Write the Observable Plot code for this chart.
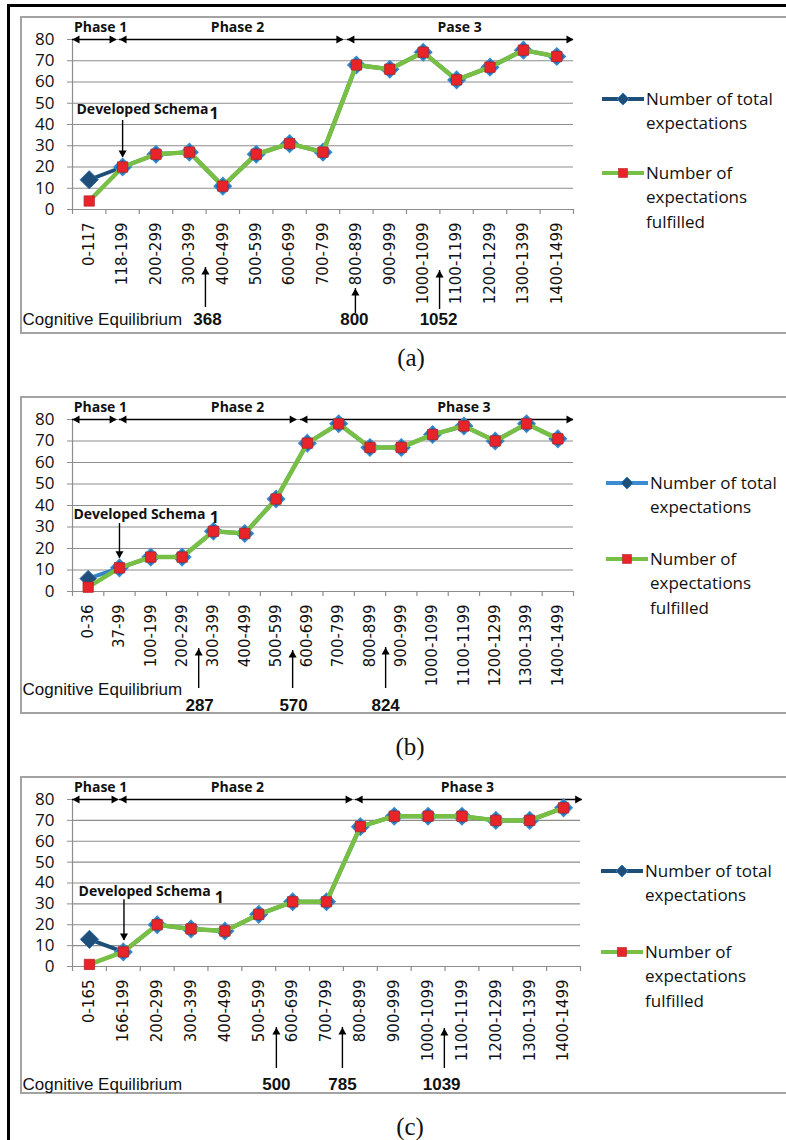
<!DOCTYPE html>
<html><head><meta charset="utf-8">
<script src="https://cdn.jsdelivr.net/npm/d3@7"></script>
<script src="https://cdn.jsdelivr.net/npm/@observablehq/plot@0.6"></script>
<style>
html,body{margin:0;padding:0;background:#fff;}
body{width:786px;height:1140px;overflow:hidden;position:relative;}
#page{position:absolute;left:0;top:0;width:786px;height:1140px;overflow:hidden;}
.outer{position:absolute;left:7px;top:4px;width:830px;height:1200px;border:3px solid #000;box-sizing:border-box;}
.frame{position:absolute;border:2px solid #a3a3a3;box-sizing:border-box;}
.chart{position:absolute;}
.legend{position:absolute;font-family:"Open Sans",sans-serif;font-size:17px;line-height:24.5px;color:#111;white-space:nowrap;}
.sym{position:absolute;}
.caption{position:absolute;width:120px;text-align:center;font-family:"Liberation Serif",serif;font-size:25px;line-height:30px;color:#111;}
</style></head><body><div id="page"><div class="outer"></div></div>
<script>
// ---------------- data ----------------
const catsA = ["0-117","118-199","200-299","300-399","400-499","500-599","600-699","700-799","800-899","900-999","1000-1099","1100-1199","1200-1299","1300-1399","1400-1499"];
const totalA = [14,20,26,27,11,26,31,27,68,66,74,61,67,75,72];
const fulfilledA = [4,20,26,27,11,26,31,27,68,66,74,61,67,75,72];

const catsB = ["0-36","37-99","100-199","200-299","300-399","400-499","500-599","600-699","700-799","800-899","900-999","1000-1099","1100-1199","1200-1299","1300-1399","1400-1499"];
const totalB = [6,11,16,16,28,27,43,69,78,67,67,73,77,70,78,71];
const fulfilledB = [2,11,16,16,28,27,43,69,78,67,67,73,77,70,78,71];

const catsC = ["0-165","166-199","200-299","300-399","400-499","500-599","600-699","700-799","800-899","900-999","1000-1099","1100-1199","1200-1299","1300-1399","1400-1499"];
const totalC = [13,7,20,18,17,25,31,31,67,72,72,72,70,70,76];
const fulfilledC = [1,7,20,18,17,25,31,31,67,72,72,72,70,70,76];

const yTicks = [0,10,20,30,40,50,60,70,80];
const phaseLabelsA = ["Phase 1","Phase 2","Pase 3"];
const phaseLabelsBC = ["Phase 1","Phase 2","Phase 3"];
const ceValuesA = [368, 800, 1052];
const ceValuesB = [287, 570, 824];
const ceValuesC = [500, 785, 1039];
const schemaLabel = "Developed Schema";
const schemaSub = "1";
const ceLabel = "Cognitive Equilibrium";
const legendTotal = ["Number of total", "expectations"];
const legendFulfilled = ["Number of", "expectations", "fulfilled"];
const captions = ["(a)", "(b)", "(c)"];

// ---------------- layout (annotation placement) ----------------
const W = 765, H = 318, MT = 23, ML = 52;
const panels = [
  {cats: catsA, total: totalA, fulfilled: fulfilledA, phases: phaseLabelsA, ce: ceValuesA,
   top: 16, mb: 125, mr: 212, lineColor: "#1f4e79", legendLine: "#1f4e79",
   phaseFrom: [-0.5, 0.91, 7.73], phaseTo: [0.82, 7.61, 14.5], phaseAt: [0.34, 4.44, 11.09],
   dsX: -0.38, dsY: 47, subX: 3.6, subDy: 4, dsArrowX: 1.0, dsTop: 41.9, dsTip: 24.5,
   ceTextDy: 110, ceNumDy: 110, ceX: [3.54, 7.94, 10.46], ceArrowX: [3.48, 7.97, 10.49], ceBottom: [98, 104, 100], ceTip: [58, 79, 61],
   leg: {symX: 601, y1: 99, y2: 173, textX: 646}, cap: [411, 358]},
  {cats: catsB, total: totalB, fulfilled: fulfilledB, phases: phaseLabelsBC, ce: ceValuesB,
   top: 396, mb: 123, mr: 212, lineColor: "#3584c6", legendLine: "#3a8dd0",
   phaseFrom: [-0.5, 1.0, 6.78], phaseTo: [0.91, 6.66, 15.5], phaseAt: [0.39, 4.77, 12.0],
   dsX: -0.47, dsY: 35.8, subX: 3.88, subDy: 3, dsArrowX: 1.0, dsTop: 31.6, dsTip: 15.5,
   ceTextDy: 98, ceNumDy: 114, ceX: [3.56, 6.56, 9.5], ceArrowX: [3.53, 6.53, 9.5], ceBottom: [97, 97, 97], ceTip: [57, 59, 56],
   leg: {symX: 605, y1: 483, y2: 559, textX: 650}, cap: [410, 747]},
  {cats: catsC, total: totalC, fulfilled: fulfilledC, phases: phaseLabelsBC, ce: ceValuesC,
   top: 776, mb: 128, mr: 205, lineColor: "#1f4e79", legendLine: "#1f4e79",
   phaseFrom: [-0.5, 0.89, 7.86], phaseTo: [0.86, 7.77, 14.55], phaseAt: [0.33, 4.37, 11.16],
   dsX: -0.32, dsY: 35.9, subX: 3.7, subDy: 6, dsArrowX: 1.02, dsTop: 32, dsTip: 12.5,
   ceTextDy: 118, ceNumDy: 118, ceX: [5.52, 7.47, 10.4], ceArrowX: [5.52, 7.47, 10.48], ceBottom: [102, 102, 102], ceTip: [61, 61, 62],
   leg: {symX: 600, y1: 871, y2: 952, textX: 645}, cap: [410, 1127]}
];

const GRAY = "#8d8d8d", GREEN = "#77bf45", RED = "#e8232a", NAVY = "#1f4e79";
const HEAD_R = 3, TIP = 2 * HEAD_R * 0.7776;

const page = document.getElementById("page");

panels.forEach((p, pi) => {
  const n = p.cats.length;
  const rows = p.cats.map((c, i) => ({i, cat: c, total: p.total[i], fulfilled: p.fulfilled[i]}));
  const k = (H - MT - p.mb) / 80;
  const below = px => -px / k;
  const phaseRows = p.phases.map((lab, j) => ({label: lab, from: p.phaseFrom[j], to: p.phaseTo[j], at: p.phaseAt[j]}));
  const ceRows = p.ce.map((v, j) => ({label: String(v), x: p.ceX[j], ax: p.ceArrowX[j], y1: below(p.ceBottom[j]), y2: below(p.ceTip[j])}));
  const boundaries = d3.range(n + 1).map(j => j - 0.5);
  const ds = [{x: p.dsX, y: p.dsY, ax: p.dsArrowX, top: p.dsTop, tip: p.dsTip, subX: p.subX}];

  const chart = Plot.plot({
    width: W, height: H,
    marginLeft: ML, marginRight: p.mr, marginTop: MT, marginBottom: p.mb,
    x: {domain: [-0.5, n - 0.5], axis: null},
    y: {domain: [0, 80]},
    style: {background: "transparent", overflow: "visible", color: "#111"},
    marks: [
      Plot.gridY(yTicks.slice(1), {stroke: GRAY, strokeOpacity: 1, strokeWidth: 1.2}),
      Plot.ruleY([0], {stroke: GRAY, strokeWidth: 1.2}),
      Plot.ruleX([-0.5], {stroke: GRAY, strokeWidth: 1.2}),
      Plot.axisY(yTicks, {tickSize: 5, tickPadding: 13, stroke: GRAY, fontSize: 17, fontFamily: "Open Sans", label: null}),
      Plot.ruleX(boundaries, {y1: 0, y2: below(5), stroke: GRAY, strokeWidth: 1.2}),
      Plot.text(rows, {x: "i", text: "cat", frameAnchor: "bottom", rotate: -90, textAnchor: "end", lineAnchor: "middle", dy: 13, fontSize: 15, fontFamily: "DejaVu Sans", fill: "#111"}),
      // phase arrows
      Plot.ruleY(phaseRows, {y: 80, x1: "from", x2: "to", stroke: "#000", strokeWidth: 1.4}),
      Plot.dot(phaseRows, {x: "to", y: 80, symbol: "triangle", r: HEAD_R, rotate: 90, dx: -TIP, fill: "#000", stroke: null}),
      Plot.dot(phaseRows, {x: "from", y: 80, symbol: "triangle", r: HEAD_R, rotate: -90, dx: TIP, fill: "#000", stroke: null}),
      Plot.text(phaseRows, {x: "at", y: 80, text: "label", dy: -12, fontSize: 14, fontWeight: "bold", fontFamily: "Open Sans", fill: "#111"}),
      // series: total
      Plot.line(rows, {x: "i", y: "total", stroke: p.lineColor, strokeWidth: 4}),
      Plot.dot(rows.slice(1), {x: "i", y: "total", symbol: "diamond2", r: 7.6, fill: "#2266a6", stroke: "#3689cc", strokeWidth: 1.6}),
      Plot.dot(rows.slice(0, 1), {x: "i", y: "total", symbol: "diamond2", r: pi === 1 ? 7.4 : 8.2, fill: NAVY, stroke: "#2a6aa6", strokeWidth: 1}),
      // series: fulfilled
      Plot.line(rows, {x: "i", y: "fulfilled", stroke: GREEN, strokeWidth: 4.5}),
      Plot.dot(rows, {x: "i", y: "fulfilled", symbol: "square", r: 5.8, fill: RED, stroke: "#b3262a", strokeWidth: 0.8}),
      // developed schema annotation
      Plot.text(ds, {x: "x", y: "y", text: () => schemaLabel, textAnchor: "start", lineAnchor: "middle", fontSize: 14, fontWeight: "bold", fontFamily: "Open Sans", fill: "#111"}),
      Plot.text(ds, {x: "subX", y: "y", text: () => schemaSub, textAnchor: "start", lineAnchor: "middle", dy: p.subDy, fontSize: 16, fontWeight: "bold", fontFamily: "Open Sans", fill: "#111"}),
      Plot.ruleX(ds, {x: "ax", y1: "top", y2: "tip", stroke: "#000", strokeWidth: 1.4}),
      Plot.dot(ds, {x: "ax", y: "tip", symbol: "triangle", r: HEAD_R, rotate: 180, dy: -TIP, fill: "#000", stroke: null}),
      // cognitive equilibrium
      Plot.text([ceLabel], {frameAnchor: "bottom-left", text: d => d, textAnchor: "start", lineAnchor: "middle", dx: -50, dy: p.ceTextDy, fontSize: 17, fontFamily: "Liberation Sans", fill: "#111"}),
      Plot.text(ceRows, {x: "x", frameAnchor: "bottom", text: "label", lineAnchor: "middle", dy: p.ceNumDy, fontSize: 17, fontWeight: "bold", fontFamily: "Liberation Sans", fill: "#111"}),
      Plot.ruleX(ceRows, {x: "ax", y1: "y1", y2: "y2", stroke: "#000", strokeWidth: 1.4}),
      Plot.dot(ceRows, {x: "ax", y: "y2", symbol: "triangle", r: HEAD_R, rotate: 0, dy: TIP, fill: "#000", stroke: null})
    ]
  });

  const frame = document.createElement("div");
  frame.className = "frame";
  Object.assign(frame.style, {left: "20px", top: p.top + "px", width: "780px", height: H + "px"});
  page.appendChild(frame);

  chart.classList.add("chart");
  Object.assign(chart.style, {left: "20px", top: p.top + "px"});
  page.appendChild(chart);

  // legend
  const addSym = (y, kind) => {
    const s = d3.create("svg").attr("class", "sym").attr("width", 44).attr("height", 16)
      .style("left", p.leg.symX + "px").style("top", (y - 8) + "px");
    s.append("line").attr("x1", 1).attr("x2", 43).attr("y1", 8).attr("y2", 8)
      .attr("stroke", kind === "total" ? p.legendLine : GREEN).attr("stroke-width", 4);
    if (kind === "total") {
      s.append("path").attr("d", "M22,2L28,8L22,14L16,8Z").attr("fill", NAVY).attr("stroke", "#2f7fc0").attr("stroke-width", 1);
    } else {
      s.append("rect").attr("x", 17.5).attr("y", 3.5).attr("width", 9).attr("height", 9).attr("fill", RED).attr("stroke", "#b3262a").attr("stroke-width", 0.6);
    }
    page.appendChild(s.node());
  };
  const addText = (y, lines) => {
    const d = document.createElement("div");
    d.className = "legend";
    d.style.left = p.leg.textX + "px";
    d.style.top = (y - 12.25) + "px";
    d.innerHTML = lines.join("<br>");
    page.appendChild(d);
  };
  addSym(p.leg.y1, "total");
  addText(p.leg.y1, legendTotal);
  addSym(p.leg.y2, "fulfilled");
  addText(p.leg.y2, legendFulfilled);

  const cap = document.createElement("div");
  cap.className = "caption";
  cap.textContent = captions[pi];
  cap.style.left = (p.cap[0] - 60) + "px";
  cap.style.top = (p.cap[1] - 15) + "px";
  page.appendChild(cap);
});
</script></body></html>
